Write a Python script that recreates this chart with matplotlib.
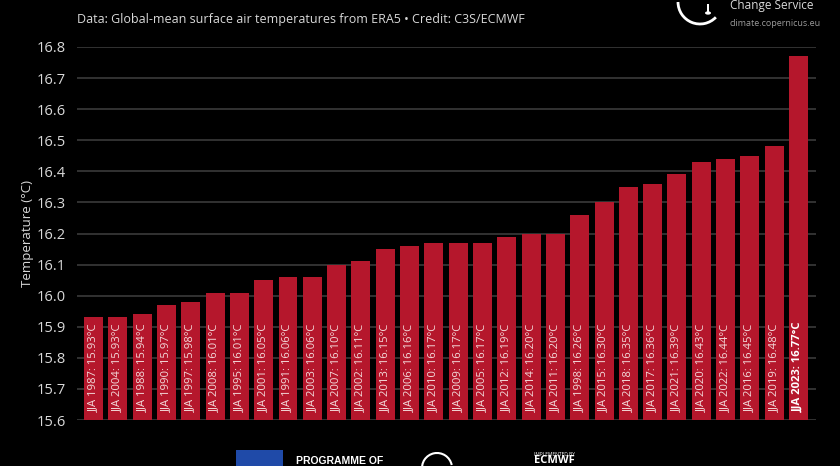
import matplotlib
matplotlib.use("Agg")
import matplotlib.pyplot as plt
from matplotlib.patches import Rectangle, Arc, Circle

years = ["1987", "2004", "1988", "1990", "1997", "2008", "1995", "2001", "1991", "2003",
         "2007", "2002", "2013", "2006", "2010", "2009", "2005", "2012", "2014", "2011",
         "1998", "2015", "2018", "2017", "2021", "2020", "2022", "2016", "2019", "2023"]
temps = [15.93, 15.93, 15.94, 15.97, 15.98, 16.01, 16.01, 16.05, 16.06, 16.06,
         16.10, 16.11, 16.15, 16.16, 16.17, 16.17, 16.17, 16.19, 16.20, 16.20,
         16.26, 16.30, 16.35, 16.36, 16.39, 16.43, 16.44, 16.45, 16.48, 16.77]
yticks = [15.6, 15.7, 15.8, 15.9, 16.0, 16.1, 16.2, 16.3, 16.4, 16.5, 16.6, 16.7, 16.8]

BG = "#000000"
BAR = "#b5172c"
TXT = "#d9d9d9"
GRID = "#3a3a3a"
FONT = ["Open Sans", "DejaVu Sans"]

plt.rcParams["font.family"] = FONT

fig = plt.figure(figsize=(8.4, 4.66), dpi=100, facecolor=BG)
ax = fig.add_axes([77/840, 1-420/466, (816-77)/840, (420-47)/466])
ax.set_facecolor(BG)

x = list(range(len(temps)))
ax.bar(x, [t - 15.6 for t in temps], bottom=15.6, width=0.78, color=BAR, zorder=2)

ax.set_ylim(15.6, 16.8)
ax.set_xlim(-0.68, len(temps) - 1 + 0.72)
ax.set_yticks(yticks)
ax.set_yticklabels([f"{v:.1f}" for v in yticks], color=TXT, fontsize=10.5)
ax.set_xticks([])
ax.tick_params(axis="y", length=0, pad=8)
for s in ax.spines.values():
    s.set_visible(False)
ax.grid(axis="y", color=GRID, linewidth=1.2, zorder=0)
ax.set_ylabel("Temperature (°C)", color=TXT, fontsize=9.5, labelpad=2)

for i, (yr, t) in enumerate(zip(years, temps)):
    last = i == len(temps) - 1
    ax.text(i, 15.626, f"JJA {yr}: {t:.2f}°C", rotation=90, ha="center", va="bottom",
            color="white" if last else "#f3dada", fontsize=8.1,
            fontweight="bold" if last else "normal", zorder=3)

# header text
fig.text(77/840, 1-19/466, "Data: Global-mean surface air temperatures from ERA5 • Credit: C3S/ECMWF",
         color=TXT, fontsize=9, va="center", ha="left")
fig.text(730/840, 1-6/466, "Change Service", color=TXT, fontsize=8.5, va="center", ha="left")
fig.text(730/840, 1-23/466, "climate.copernicus.eu", color="#9a9a9a", fontsize=6.5, va="center", ha="left")

# logo arc top right (drawn shapes)
fig.patches.append(Arc((700/840, 1-2/466), 44/840, 44/466, theta1=180, theta2=300,
                       transform=fig.transFigure, color="white", linewidth=2))
fig.patches.append(Rectangle((707/840, 1-12/466), 2/840, 8/466, transform=fig.transFigure,
                             facecolor="white", edgecolor="none"))
fig.patches.append(Circle((708/840, 1-13/466), 3/840, transform=fig.transFigure,
                          facecolor="white", edgecolor="none"))

# bottom logos
fig.patches.append(Rectangle((236/840, 0), 47/840, 16/466, transform=fig.transFigure,
                             facecolor="#1f4aa8", edgecolor="none"))
fig.text(296/840, 5/466, "PROGRAMME OF", color="white", fontsize=7.5, fontweight="bold",
         ha="left", va="center", family=["Liberation Sans", "DejaVu Sans"])
fig.patches.append(Arc((437/840, -2/466), 30/840, 30/466, theta1=20, theta2=200,
                       transform=fig.transFigure, color="white", linewidth=1.5))
fig.text(534/840, 12/466, "IMPLEMENTED BY", color="white", fontsize=3.5, ha="left", va="center")
fig.text(534/840, 0/466, "ECMWF", color="white", fontsize=8, fontweight="bold", ha="left", va="bottom")

fig.savefig("out.png", dpi=100, facecolor=BG)
